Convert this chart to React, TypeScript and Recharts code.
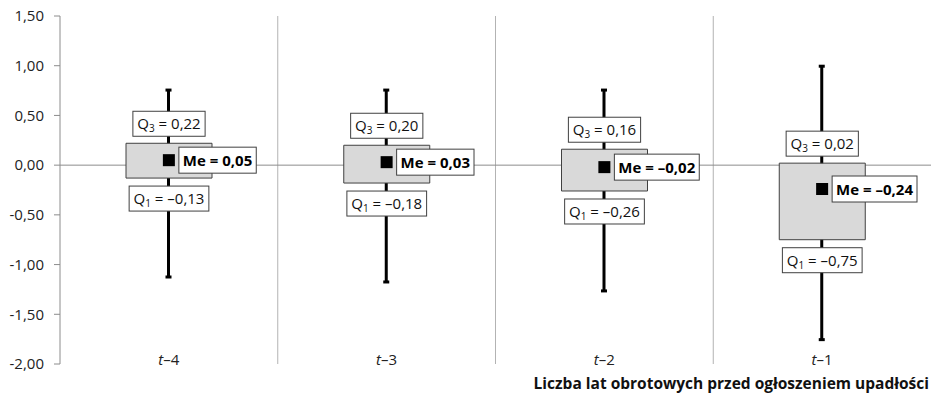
import React from "react";
import {
  Bar,
  CartesianGrid,
  ComposedChart,
  LabelList,
  Scatter,
  XAxis,
  YAxis,
} from "recharts";

// t–4 ... t–1
const periods = ["4", "3", "2", "1"];
const positions = [0.5, 1.5, 2.5, 3.5];
const q1Values = [-0.13, -0.18, -0.26, -0.75];
const q3Values = [0.22, 0.2, 0.16, 0.02];
const medians = [0.05, 0.03, -0.02, -0.24];
const minValues = [-1.13, -1.18, -1.27, -1.76];
const maxValues = [0.76, 0.76, 0.76, 1.0];
const yTicks = [-2, -1.5, -1, -0.5, 0, 0.5, 1, 1.5];
const separators = [1, 2, 3];

const data = periods.map((p, i) => ({
  period: p,
  pos: positions[i],
  box: [q1Values[i], q3Values[i]],
  whisker: [minValues[i], maxValues[i]],
  q1: q1Values[i],
  q3: q3Values[i],
  med: medians[i],
}));

const FONT = "'Open Sans', 'Noto Sans', sans-serif";
const FS = 15;

const fmt = (v: number) => v.toFixed(2).replace(".", ",").replace("-", "\u2013");
const fmtTick = (v: number) => v.toFixed(2).replace(".", ",");

let ctx: CanvasRenderingContext2D | null = null;
function textWidth(text: string, bold: boolean) {
  if (!ctx) ctx = document.createElement("canvas").getContext("2d");
  if (!ctx) return text.length * 8;
  ctx.font = `${bold ? "bold " : ""}${FS}px 'Open Sans'`;
  return ctx.measureText(text).width;
}

function QLabel({ cx, y, sub, value, above }: any) {
  const txt = `Q${sub} = ${fmt(value)}`;
  const w = textWidth(txt, false) + 6;
  const h = 25;
  const top = above ? y - 7 - h : y + 8;
  return (
    <g>
      <rect x={cx - w / 2} y={top} width={w} height={h} fill="#fff" stroke="#404040" />
      <text x={cx} y={top + 18} textAnchor="middle" fontFamily={FONT} fontSize={FS} fill="#111">
        Q
        <tspan fontSize={10} dy={3}>{sub}</tspan>
        <tspan dy={-3}>{` = ${fmt(value)}`}</tspan>
      </text>
    </g>
  );
}

const Whisker = (props: any) => {
  const { x, y, width, height } = props;
  const cx = x + width / 2;
  return (
    <g>
      <rect x={x} y={y} width={width} height={height} fill="#000" />
      <rect x={cx - 3} y={y - 1} width={6} height={3} fill="#000" />
      <rect x={cx - 3} y={y + height - 2} width={6} height={3} fill="#000" />
    </g>
  );
};

const BoxLabels = (props: any) => {
  const { x, y, width, height, index } = props;
  const cx = x + width / 2;
  return (
    <g>
      <QLabel cx={cx} y={y} sub={3} value={q3Values[index]} above />
      <QLabel cx={cx} y={y + height} sub={1} value={q1Values[index]} />
    </g>
  );
};

const MedianMark = (props: any) => {
  const { cx, cy, payload } = props;
  const txt = `Me = ${fmt(payload.med)}`;
  const w = textWidth(txt, true) + 8;
  const h = 26;
  const left = cx + 10;
  return (
    <g>
      <rect x={cx - 6} y={cy - 6} width={12} height={12} fill="#000" />
      <rect x={left} y={cy - h / 2} width={w} height={h} fill="#fff" stroke="#404040" />
      <text x={left + w / 2} y={cy + 5.5} textAnchor="middle" fontFamily={FONT} fontSize={FS} fontWeight="bold" fill="#000">
        {txt}
      </text>
    </g>
  );
};

const PeriodTick = (props: any) => {
  const { x, y, payload } = props;
  const idx = positions.indexOf(payload.value);
  return (
    <text x={x} y={y} dy={1} textAnchor="middle" fontFamily={FONT} fontSize={FS} fill="#222">
      <tspan fontStyle="italic">t</tspan>
      <tspan>{`\u2013${periods[idx]}`}</tspan>
    </text>
  );
};

const AxisTitle = (props: any) => {
  const { viewBox } = props;
  return (
    <text
      x={viewBox.x + viewBox.width - 2}
      y={viewBox.y + 25}
      textAnchor="end"
      fontFamily={FONT}
      fontSize={15.5}
      fontWeight="bold"
      fill="#111"
    >
      Liczba lat obrotowych przed ogłoszeniem upadłości
    </text>
  );
};

export default function App() {
  return (
    <div style={{ position: "absolute", left: 0, top: 0, background: "#fff" }}>
      <ComposedChart
        width={931}
        height={397}
        data={data}
        margin={{ top: 16, right: 0, bottom: 0, left: 0 }}
      >
        <CartesianGrid
          xAxisId="main"
          horizontal={false}
          verticalValues={separators}
          stroke="#b3b3b3"
        />
        <CartesianGrid
          xAxisId="main"
          vertical={false}
          horizontalValues={[0]}
          stroke="#8c8c8c"
        />
        <XAxis
          xAxisId="main"
          dataKey="pos"
          type="number"
          domain={[0, 4]}
          ticks={positions}
          axisLine={false}
          tickLine={false}
          tickSize={0}
          tickMargin={0}
          height={33}
          tick={<PeriodTick />}
          label={<AxisTitle />}
        />
        <XAxis xAxisId="w" dataKey="pos" type="number" domain={[0, 4]} hide />
        <YAxis
          type="number"
          domain={[-2, 1.5]}
          ticks={yTicks}
          width={60}
          tickFormatter={fmtTick}
          axisLine={{ stroke: "#8c8c8c" }}
          tickLine={{ stroke: "#8c8c8c" }}
          tickSize={6}
          tickMargin={10}
          tick={{ fontFamily: FONT, fontSize: FS, fill: "#222" }}
        />
        <Bar
          xAxisId="w"
          dataKey="whisker"
          barSize={3}
          shape={<Whisker />}
          isAnimationActive={false}
        />
        <Bar
          xAxisId="main"
          dataKey="box"
          barSize={86}
          fill="#d9d9d9"
          stroke="#404040"
          strokeWidth={1}
          isAnimationActive={false}
        >
          <LabelList dataKey="box" content={<BoxLabels />} />
        </Bar>
        <Scatter
          xAxisId="main"
          dataKey="med"
          shape={<MedianMark />}
          isAnimationActive={false}
        />
      </ComposedChart>
    </div>
  );
}
